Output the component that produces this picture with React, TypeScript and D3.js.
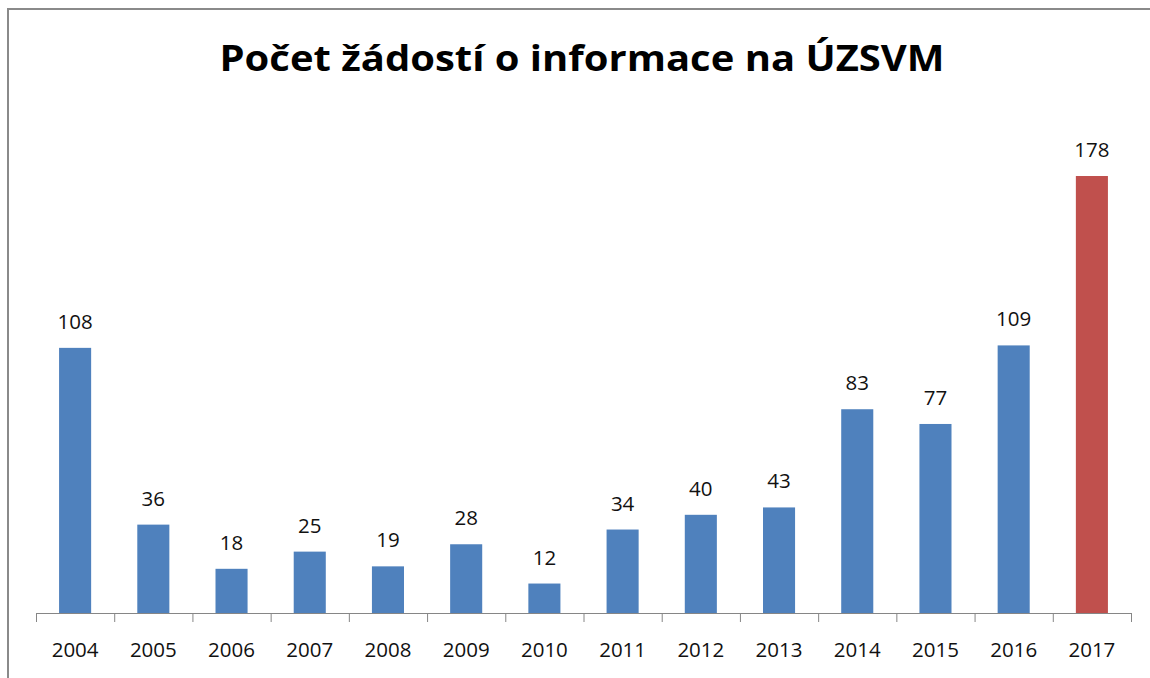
import React from "react";
import * as d3 from "d3";

const years = ["2004","2005","2006","2007","2008","2009","2010","2011","2012","2013","2014","2015","2016","2017"];
const counts = [108, 36, 18, 25, 19, 28, 12, 34, 40, 43, 83, 77, 109, 178];
const highlightYear = "2017";
const title = "Počet žádostí o informace na ÚZSVM";

const W = 1150, H = 678;
const axisY = 613;
const font = "'Open Sans', sans-serif";

export default function App() {
  const x = d3.scaleBand<string>().domain(years).range([36, 1131]).padding(0);
  const y = d3.scaleLinear().domain([0, 200]).range([axisY, 122]);
  const bw = x.bandwidth() * 0.41;
  const ticks = [...years.map((yr) => x(yr)!), 1131];

  return (
    <svg width={W} height={H} style={{ position: "absolute", left: 0, top: 0, background: "#fff" }}>
      <rect x={0} y={0} width={W} height={H} fill="#fff" />
      <path d={`M8,${H} V9 H${W}`} fill="none" stroke="#8a8a8a" strokeWidth={2} />
      <text x={582} y={71} textAnchor="middle" fontFamily={font} fontWeight={700} fontSize={35}
        textLength={725} lengthAdjust="spacingAndGlyphs" fill="#000">{title}</text>
      {years.map((yr, i) => {
        const cx = x(yr)! + x.bandwidth() / 2;
        const v = counts[i];
        return (
          <g key={yr}>
            <rect x={cx - bw / 2} y={y(v)} width={bw} height={axisY - y(v)}
              fill={yr === highlightYear ? "#C0504D" : "#4F81BD"} />
            <text x={cx} y={y(v) - 19} textAnchor="middle" fontFamily={font} fontSize={20.5} fill="#111">{v}</text>
            <text x={cx} y={657} textAnchor="middle" fontFamily={font} fontSize={20.5} fill="#111">{yr}</text>
          </g>
        );
      })}
      <line x1={36} x2={1131} y1={axisY + 0.5} y2={axisY + 0.5} stroke="#868686" strokeWidth={1} />
      {ticks.map((t, i) => (
        <line key={i} x1={t + 0.5} x2={t + 0.5} y1={axisY} y2={axisY + 9} stroke="#868686" strokeWidth={1} />
      ))}
    </svg>
  );
}
